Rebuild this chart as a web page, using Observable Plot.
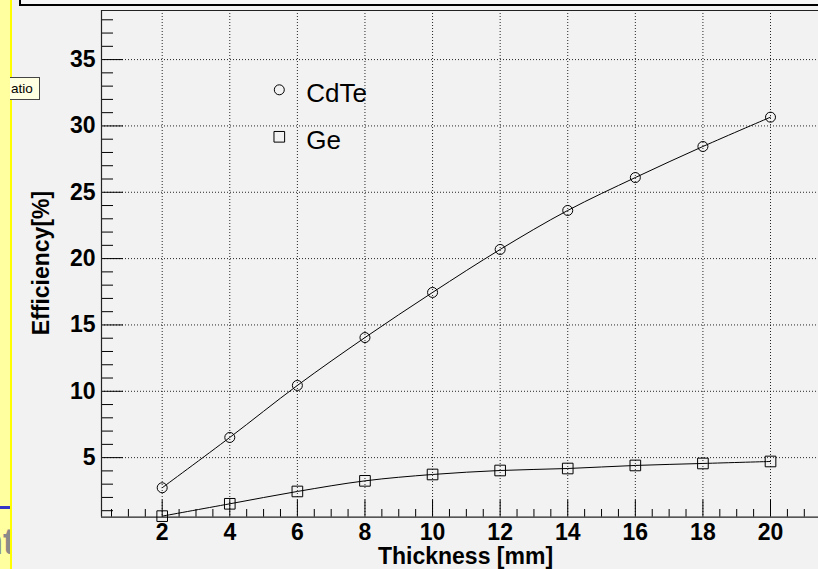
<!DOCTYPE html>
<html>
<head>
<meta charset="utf-8">
<script src="https://cdn.jsdelivr.net/npm/d3@7"></script>
<script src="https://cdn.jsdelivr.net/npm/@observablehq/plot@0.6"></script>
<style>
  html, body { margin: 0; padding: 0; background: #f2f2f2; }
  #wrap { position: relative; width: 818px; height: 569px; overflow: hidden; background: #f2f2f2; font-family: "Liberation Sans", Arial, sans-serif; }
  #chart { position: absolute; left: 0; top: 0; }
  .deco { position: absolute; }
</style>
</head>
<body>
<div id="wrap">
  <div id="chart"></div>
  <div class="deco" style="left:19px; top:-4px; width:820px; height:6px; border:2px solid #000; background:#f7f7f7;"></div>
  <div class="deco" style="left:0; top:0; width:10px; height:569px; background:#ffffa0;"></div>
  <div class="deco" style="left:10px; top:0; width:2px; height:569px; background:#ffff00;"></div>
  <div class="deco" style="left:0; top:506px; width:10px; height:3px; background:#3535c8;"></div>
  <div class="deco" style="left:0; top:520px; width:10px; height:45px; overflow:hidden;">
    <div style="position:absolute; left:-19px; top:4px; font:bold 36px/36px 'Liberation Sans', Arial, sans-serif; color:#8a8a8a; white-space:nowrap;">nt</div>
  </div>
  <div class="deco" style="left:10px; top:77px; width:28px; height:21px; background:#ffffe1; border:1px solid #444; border-left:none; font:13.5px/21px 'Liberation Sans', Arial, sans-serif; color:#000; padding-left:1px; box-sizing:content-box;">atio</div>
</div>
<script>
// ---- data ----
const thickness = [2, 4, 6, 8, 10, 12, 14, 16, 18, 20];
const cdteEff = [2.73, 6.52, 10.44, 14.05, 17.45, 20.69, 23.63, 26.11, 28.45, 30.66];
const geEff = [0.59, 1.52, 2.45, 3.25, 3.73, 4.03, 4.18, 4.41, 4.56, 4.71];
const seriesNames = ["CdTe", "Ge"];
const xTickLabels = [2, 4, 6, 8, 10, 12, 14, 16, 18, 20];
const yTickLabels = [5, 10, 15, 20, 25, 30, 35];
const xTitle = "Thickness [mm]";
const yTitle = "Efficiency[%]";

const xDomain = [0.204, 21.42];
const yDomain = [0.51, 38.7];
const xMinor = d3.range(0.5, 21.01, 0.5).filter(v => !xTickLabels.includes(v));
const yMinor = d3.range(1, 39, 1).filter(v => !yTickLabels.includes(v));

const W = 818, H = 569;
const mL = 101, mR = 0, mT = 10, mB = 52.3;
const plotW = W - mL - mR, plotH = H - mT - mB;

const cdte = thickness.map((t, i) => ({x: t, y: cdteEff[i]}));
const ge = thickness.map((t, i) => ({x: t, y: geEff[i]}));

const font = "'Liberation Sans', Arial, Helvetica, sans-serif";
const grid = {stroke: "#000", strokeOpacity: 0.85, strokeDasharray: "1,2", strokeWidth: 1};

const legendMarks = [];
const legendSymbols = ["circle", "square"];
const legendR = [5, 6];
seriesNames.forEach((name, i) => {
  legendMarks.push(Plot.dot([name], {frameAnchor: "top-left", dx: 177.8, dy: [79.3, 126.3][i], symbol: legendSymbols[i], r: legendR[i], stroke: "#000", strokeWidth: 1, fill: "none"}));
  legendMarks.push(Plot.text([name], {frameAnchor: "top-left", dx: 204.8, dy: [83.4, 130][i], text: d => d, textAnchor: "start", lineAnchor: "middle", fontSize: 26, fontFamily: font, fill: "#000"}));
});

const chart = Plot.plot({
  width: W, height: H,
  marginLeft: mL, marginRight: mR, marginTop: mT, marginBottom: mB,
  style: {background: "#f2f2f2", fontFamily: font, overflow: "visible"},
  x: {domain: xDomain},
  y: {domain: yDomain},
  marks: [
    Plot.gridX(xTickLabels, {...grid}),
    Plot.gridY(yTickLabels, {...grid}),
    // tick marks (inside the frame)
    Plot.ruleX(xTickLabels, {x: d => d, insetTop: plotH - 17, stroke: "#000", strokeWidth: 1}),
    Plot.ruleX(xMinor, {x: d => d, insetTop: plotH - 7.7, stroke: "#000", strokeWidth: 1}),
    Plot.ruleY(yTickLabels, {y: d => d, insetRight: plotW - 22, stroke: "#000", strokeWidth: 1}),
    Plot.ruleY(yMinor, {y: d => d, insetRight: plotW - 12, stroke: "#000", strokeWidth: 1}),
    // frame lines
    Plot.ruleX([xDomain[0]], {stroke: "#222", strokeWidth: 1.2}),
    Plot.ruleY([yDomain[0]], {stroke: "#222", strokeWidth: 1.2}),
    Plot.ruleY([yDomain[1]], {stroke: "#222", strokeWidth: 1.2}),
    // axes
    Plot.axisX(xTickLabels, {tickSize: 0, tickPadding: 6.5, label: null, fontSize: 23, fontWeight: "bold", fontFamily: font, fill: "#000"}),
    Plot.axisY(yTickLabels, {tickSize: 0, tickPadding: 6, label: null, fontSize: 23, fontWeight: "bold", fontFamily: font, fill: "#000"}),
    // axis titles
    Plot.text([xTitle], {frameAnchor: "bottom", text: d => d, dx: 5.5, dy: 30, lineAnchor: "top", textAnchor: "middle", fontSize: 23, fontWeight: "bold", fontFamily: font, fill: "#000"}),
    Plot.text([yTitle], {frameAnchor: "left", text: d => d, dx: -59.9, dy: -0.8, rotate: -90, lineAnchor: "middle", textAnchor: "middle", fontSize: 23, fontWeight: "bold", fontFamily: font, fill: "#000"}),
    // data
    Plot.line(cdte, {x: "x", y: "y", curve: "catmull-rom", stroke: "#000", strokeWidth: 1}),
    Plot.line(ge, {x: "x", y: "y", curve: "catmull-rom", stroke: "#000", strokeWidth: 1}),
    Plot.dot(cdte, {x: "x", y: "y", symbol: "circle", r: 5, stroke: "#000", strokeWidth: 1, fill: "none"}),
    Plot.dot(ge, {x: "x", y: "y", symbol: "square", r: 6, stroke: "#000", strokeWidth: 1, fill: "none"}),
    ...legendMarks
  ]
});
document.getElementById("chart").appendChild(chart);
</script>
</body>
</html>
